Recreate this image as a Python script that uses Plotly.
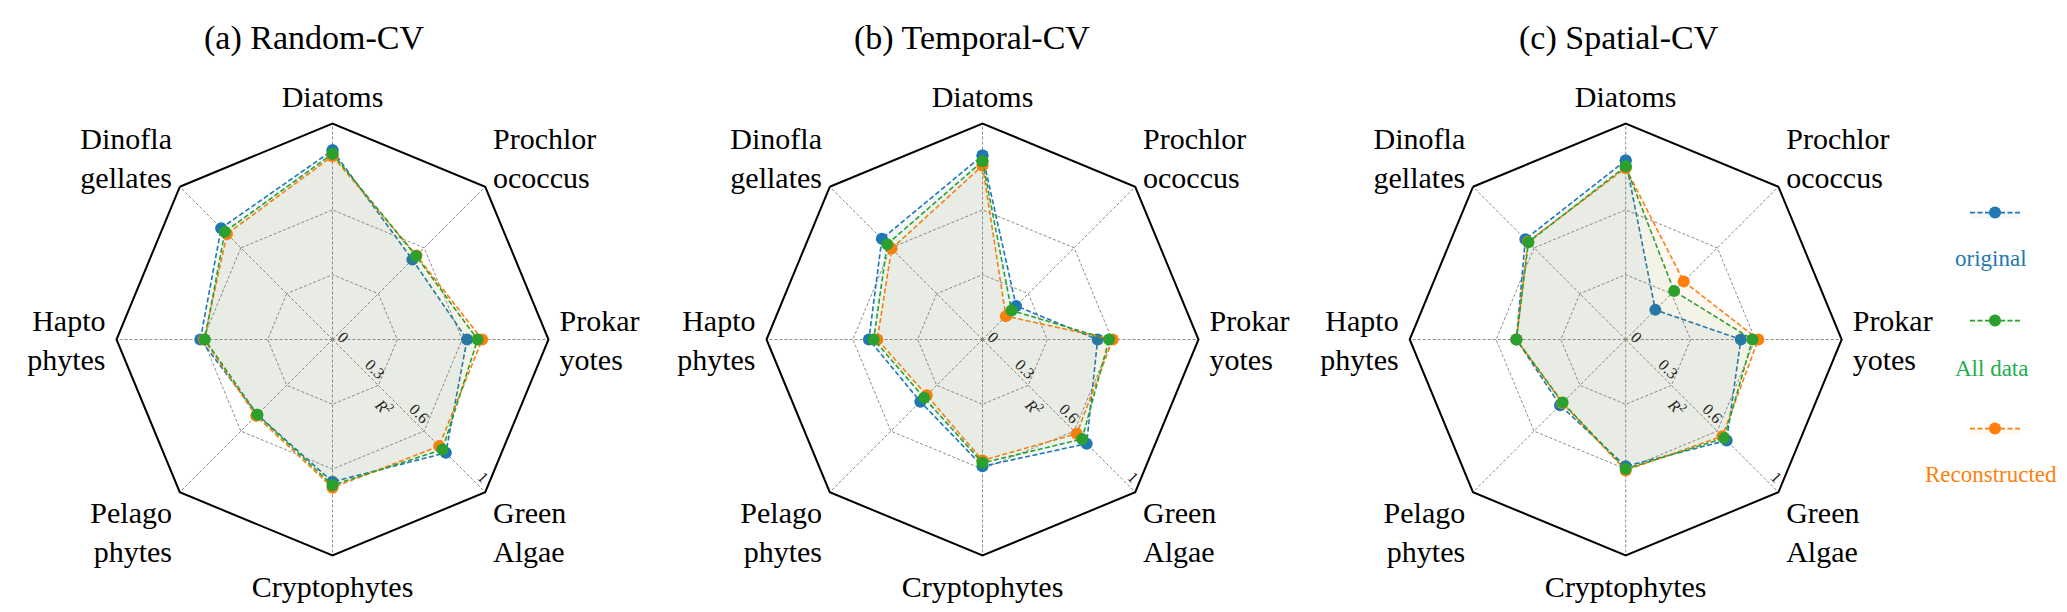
import plotly.graph_objects as go
import math

# ---------------- data ----------------
categories = ["Diatoms", "Prochlor<br>ococcus", "Prokar<br>yotes", "Green<br>Algae",
              "Cryptophytes", "Pelago<br>phytes", "Hapto<br>phytes", "Dinofla<br>gellates"]

panel_titles = ["(a) Random-CV", "(b) Temporal-CV", "(c) Spatial-CV"]
series_names = ["original", "All data", "Reconstructed"]

original_a = [0.876, 0.523, 0.623, 0.742, 0.659, 0.492, 0.612, 0.729]
alldata_a = [0.860, 0.547, 0.672, 0.720, 0.675, 0.492, 0.591, 0.705]
recon_a = [0.849, 0.550, 0.693, 0.698, 0.686, 0.500, 0.595, 0.691]

original_b = [0.852, 0.220, 0.533, 0.682, 0.587, 0.407, 0.526, 0.659]
alldata_b = [0.825, 0.190, 0.586, 0.652, 0.571, 0.382, 0.504, 0.624]
recon_b = [0.805, 0.153, 0.603, 0.617, 0.560, 0.365, 0.487, 0.595]

original_c = [0.829, 0.194, 0.533, 0.661, 0.587, 0.430, 0.506, 0.657]
alldata_c = [0.802, 0.317, 0.587, 0.645, 0.600, 0.413, 0.506, 0.637]
recon_c = [0.794, 0.380, 0.614, 0.633, 0.606, 0.415, 0.506, 0.640]

radial_tickvals = [0, 0.3, 0.6, 1]
radial_ticktext = ["0", "0.3", "0.6", "1"]

# ---------------- style ----------------
W, H = 2067, 612
FONT = "Liberation Serif"
colors = {"original": "#1f77b4", "All data": "#2ca02c", "Reconstructed": "#ff7f0e"}
fills = {"original": "rgba(31,119,180,0.05)", "All data": "rgba(44,160,44,0.05)",
         "Reconstructed": "rgba(255,127,14,0.05)"}
text_colors = {"original": "#1f77b4", "All data": "#1fae4f", "Reconstructed": "#ff7f0e"}

centers_px = [324.5, 974.5, 1617.7]
cy_px = 331.5
R_px = 216
title_x_px = [306, 964, 1611]

NB = "\u00a0"
# pad radial labels so that they end at their ring (as in the original figure)
label_pad = {"0": (3, 0), "0.3": (0, 7), "0.6": (0, 8), "1": (0, 6)}
radial_labels = [NB * label_pad[t][0] + t + NB * label_pad[t][1] for t in radial_ticktext]

panels = [
    {"original": original_a, "All data": alldata_a, "Reconstructed": recon_a},
    {"original": original_b, "All data": alldata_b, "Reconstructed": recon_b},
    {"original": original_c, "All data": alldata_c, "Reconstructed": recon_c},
]
draw_order = ["original", "Reconstructed", "All data"]
legend_ids = {"original": "legend", "All data": "legend2", "Reconstructed": "legend3"}

fig = go.Figure()
annotations = []

for i, pdata in enumerate(panels):
    pid = "polar" if i == 0 else f"polar{i+1}"
    for name in draw_order:
        vals = pdata[name]
        fig.add_trace(go.Scatterpolar(
            r=vals + vals[:1], theta=categories + categories[:1],
            mode="lines+markers", name=" ", subplot=pid,
            line=dict(color=colors[name], width=1.6, dash="5px,2.5px"),
            marker=dict(color=colors[name], size=12),
            fill="toself", fillcolor=fills[name],
            showlegend=(i == 0), legend=legend_ids[name],
            hovertemplate=name + ": %{r}<extra></extra>",
        ))
    cx = centers_px[i]
    dom_x = [(cx - R_px) / W, (cx + R_px) / W]
    dom_y = [1 - (cy_px + R_px) / H, 1 - (cy_px - R_px) / H]
    fig.layout[pid] = dict(
        domain=dict(x=dom_x, y=dom_y),
        gridshape="linear",
        bgcolor="white",
        radialaxis=dict(
            range=[0, 1], tickvals=radial_tickvals, ticktext=radial_labels,
            angle=-45, side="counterclockwise", showline=False, ticks="",
            showgrid=True, gridcolor="#8c8c8c", griddash="3px,2px", gridwidth=1,
            tickfont=dict(family=FONT, size=16, color="#222"),
        ),
        angularaxis=dict(
            rotation=90, direction="clockwise",
            ticks="outside", ticklen=4, tickcolor="rgba(0,0,0,0)",
            showline=True, linecolor="black", linewidth=2,
            showgrid=True, gridcolor="#8c8c8c", griddash="3px,2px", gridwidth=1,
            tickfont=dict(family=FONT, size=30, color="black"),
        ),
    )
    # panel title
    annotations.append(dict(
        text=panel_titles[i], x=title_x_px[i] / W, y=1 - 30 / H,
        xref="paper", yref="paper", showarrow=False,
        xanchor="center", yanchor="middle",
        font=dict(family=FONT, size=34, color="black"),
    ))
    # radial axis title R^2
    along = 0.385 * R_px
    perp = -11
    tx = cx + along * math.cos(math.radians(45)) + perp * math.cos(math.radians(45))
    ty = cy_px + along * math.sin(math.radians(45)) - perp * math.sin(math.radians(45))
    annotations.append(dict(
        text="<i>R</i><sup>2</sup>", x=tx / W, y=1 - ty / H,
        xref="paper", yref="paper", showarrow=False, textangle=45,
        xanchor="center", yanchor="middle",
        font=dict(family=FONT, size=16, color="#222"),
    ))

# legend: symbols via three legends, labels below them as text
legend_sym_y = {"original": 205, "All data": 313, "Reconstructed": 421}
legend_txt_y = {"original": 250, "All data": 360, "Reconstructed": 466}
legend_x_px = 1957
legend_txt_x = 1983
for name in series_names:
    lid = legend_ids[name]
    fig.layout[lid] = dict(
        x=legend_x_px / W, y=1 - legend_sym_y[name] / H,
        xanchor="left", yanchor="middle",
        bgcolor="rgba(0,0,0,0)", borderwidth=0,
        font=dict(family=FONT, size=14), itemwidth=50,
    )
    annotations.append(dict(
        text=name, x=legend_txt_x / W, y=1 - legend_txt_y[name] / H,
        xref="paper", yref="paper", showarrow=False,
        xanchor="center", yanchor="middle",
        font=dict(family=FONT, size=23, color=text_colors[name]),
    ))

fig.update_layout(
    width=W, height=H,
    margin=dict(l=0, r=0, t=0, b=0),
    paper_bgcolor="white",
    font=dict(family=FONT),
    annotations=annotations,
)

fig.write_html("out.html")
